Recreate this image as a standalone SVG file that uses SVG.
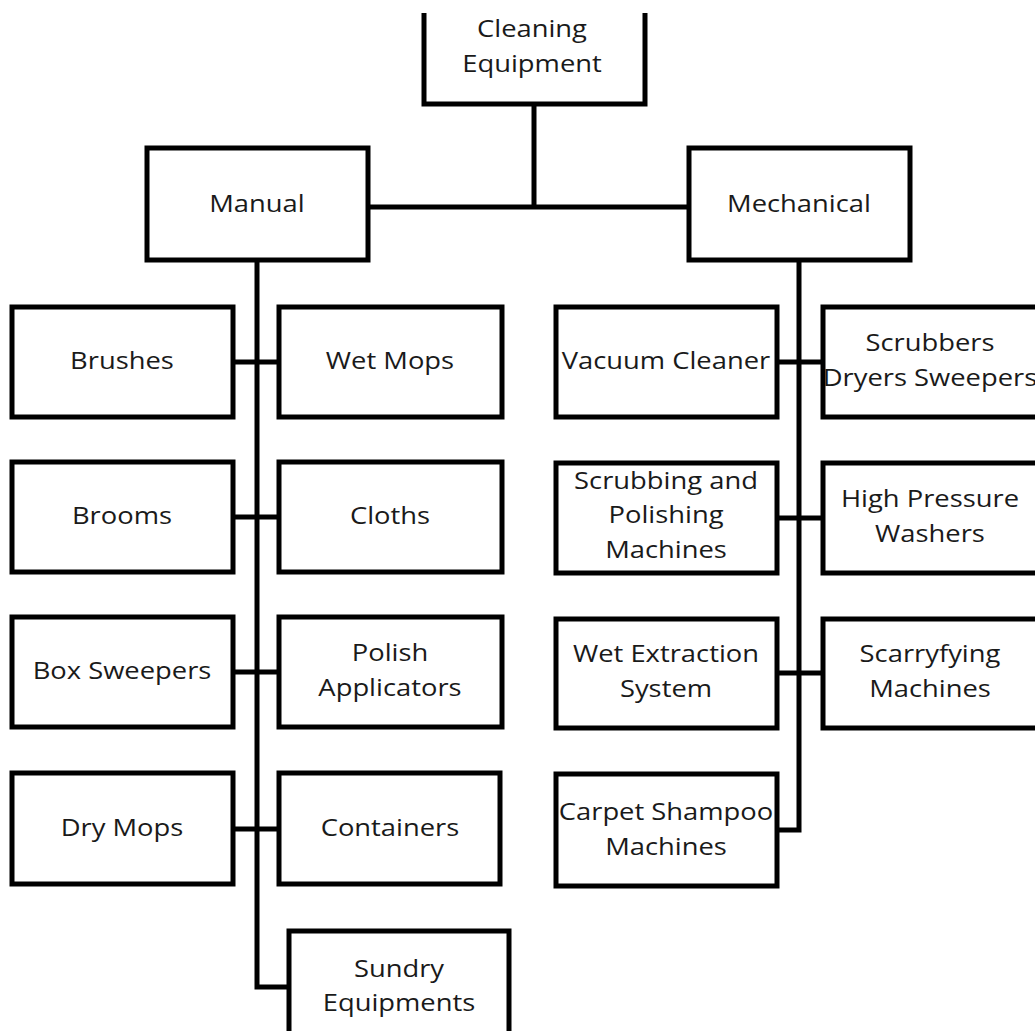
<svg xmlns="http://www.w3.org/2000/svg" width="1035" height="1031" viewBox="0 0 1035 1031">
<style>
.box{fill:#fff;stroke:#000;stroke-width:5}
.ln{fill:none;stroke:#000;stroke-width:5}
text{font-family:"Open Sans","Noto Sans","Liberation Sans",sans-serif;font-size:24px;fill:#1a1a1a;text-anchor:middle;transform:scaleX(1.14);transform-box:fill-box;transform-origin:center}
</style>
<rect width="1035" height="1031" fill="#fff"/>
<g id="connectors">
<path class="ln" d="M534,104 V207 M370,207 H690"/>
<path class="ln" d="M257,260 V987 H289"/>
<path class="ln" d="M233,362 H279 M233,517 H279 M233,672 H279 M233,829 H279"/>
<path class="ln" d="M799,260 V830 H777"/>
<path class="ln" d="M777,362 H823 M777,518 H823 M777,673 H823"/>
</g>
<g id="n-cleaning"><path class="box" d="M424,13 V104 H645 V13"/><text x="532" y="37">Cleaning</text><text x="532" y="72">Equipment</text></g>
<g id="n-manual"><rect class="box" x="147" y="148" width="221" height="112"/><text x="257" y="212">Manual</text></g>
<g id="n-mechanical"><rect class="box" x="689" y="148" width="221" height="112"/><text x="799" y="212">Mechanical</text></g>
<g id="n-brushes"><rect class="box" x="12" y="307" width="221" height="110"/><text x="122" y="369">Brushes</text></g>
<g id="n-wetmops"><rect class="box" x="279" y="307" width="223" height="110"/><text x="390" y="369">Wet Mops</text></g>
<g id="n-brooms"><rect class="box" x="12" y="462" width="221" height="110"/><text x="122" y="524">Brooms</text></g>
<g id="n-cloths"><rect class="box" x="279" y="462" width="223" height="110"/><text x="390" y="524">Cloths</text></g>
<g id="n-boxsweepers"><rect class="box" x="12" y="617" width="221" height="110"/><text x="122" y="679">Box Sweepers</text></g>
<g id="n-polish"><rect class="box" x="279" y="617" width="223" height="110"/><text x="390" y="661">Polish</text><text x="390" y="696">Applicators</text></g>
<g id="n-drymops"><rect class="box" x="12" y="773" width="221" height="111"/><text x="122" y="836">Dry Mops</text></g>
<g id="n-containers"><rect class="box" x="279" y="773" width="221" height="111"/><text x="390" y="836">Containers</text></g>
<g id="n-sundry"><rect class="box" x="289" y="931" width="220" height="120"/><text x="399" y="977">Sundry</text><text x="399" y="1011">Equipments</text></g>
<g id="n-vacuum"><rect class="box" x="556" y="307" width="221" height="110"/><text x="666" y="369">Vacuum Cleaner</text></g>
<g id="n-scrubbers"><rect class="box" x="823" y="307" width="216" height="110"/><text x="930" y="351">Scrubbers</text><text x="930" y="386">Dryers Sweepers</text></g>
<g id="n-scrubbing"><rect class="box" x="556" y="463" width="221" height="110"/><text x="666" y="489">Scrubbing and</text><text x="666" y="523">Polishing</text><text x="666" y="558">Machines</text></g>
<g id="n-hpw"><rect class="box" x="823" y="463" width="216" height="110"/><text x="930" y="507">High Pressure</text><text x="930" y="542">Washers</text></g>
<g id="n-wetextraction"><rect class="box" x="556" y="619" width="221" height="109"/><text x="666" y="662">Wet Extraction</text><text x="666" y="697">System</text></g>
<g id="n-scarry"><rect class="box" x="823" y="619" width="216" height="109"/><text x="930" y="662">Scarryfying</text><text x="930" y="697">Machines</text></g>
<g id="n-carpet"><rect class="box" x="556" y="774" width="221" height="112"/><text x="666" y="820">Carpet Shampoo</text><text x="666" y="855">Machines</text></g>
</svg>
